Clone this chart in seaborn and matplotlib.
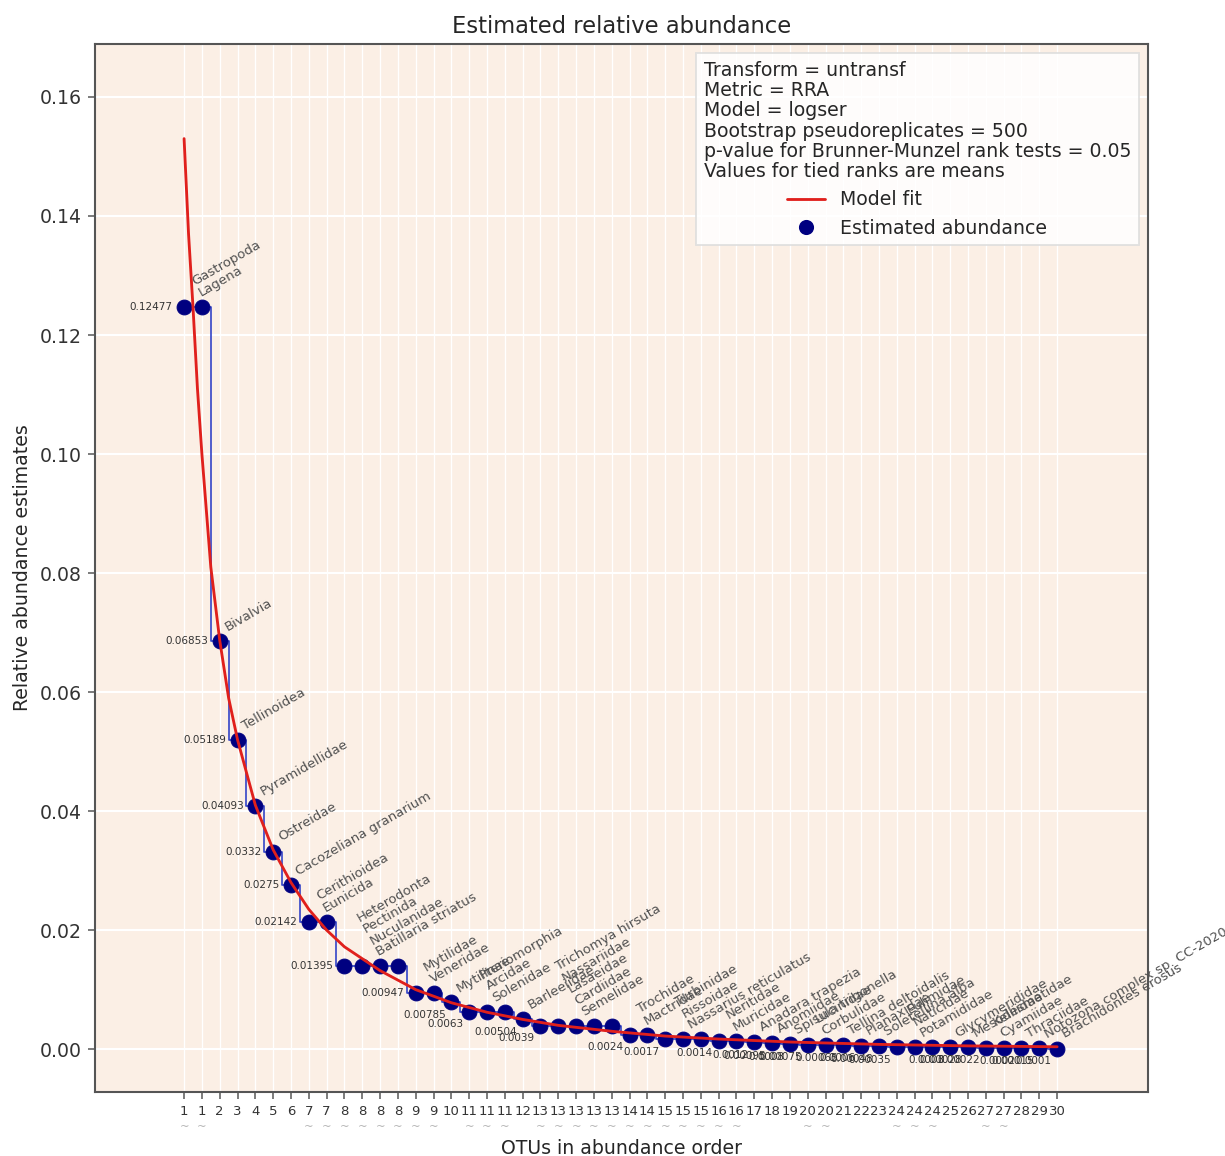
import numpy as np
import pandas as pd
import matplotlib
matplotlib.use("Agg")
import matplotlib.pyplot as plt
import matplotlib.transforms as mtransforms
from matplotlib.lines import Line2D
import seaborn as sns

# ---------------- data ----------------
rank_labels = [1, 1, 2, 3, 4, 5, 6, 7, 7, 8, 8, 8, 8, 9, 9, 10, 11, 11, 11, 12,
               13, 13, 13, 13, 13, 14, 14, 15, 15, 15, 16, 16, 17, 18, 19, 20, 20,
               21, 22, 23, 24, 24, 24, 25, 26, 27, 27, 28, 29, 30]

abundance = [0.12477, 0.12477, 0.06853, 0.05189, 0.04093, 0.0332, 0.0275,
             0.02142, 0.02142, 0.01395, 0.01395, 0.01395, 0.01395,
             0.00947, 0.00947, 0.00785, 0.0063, 0.0063, 0.0063, 0.00504,
             0.0039, 0.0039, 0.0039, 0.0039, 0.0039, 0.0024, 0.0024,
             0.0017, 0.0017, 0.0017, 0.0014, 0.0014, 0.0012, 0.00095, 0.0008,
             0.00075, 0.00075, 0.00065, 0.0006, 0.00048, 0.00035, 0.00035,
             0.00035, 0.0003, 0.00028, 0.00022, 0.00022, 0.0002, 0.00015, 0.0001]

taxa = ["Gastropoda", "Lagena", "Bivalvia", "Tellinoidea", "Pyramidellidae",
        "Ostreidae", "Cacozeliana granarium", "Cerithioidea", "Eunicida",
        "Heterodonta", "Pectinida", "Nuculanidae", "Batillaria striatus",
        "Mytilidae", "Veneridae", "Mytilinae", "Pteriomorphia", "Arcidae",
        "Solenidae", "Barleeiidae", "Trichomya hirsuta", "Nassariidae",
        "Lasaeidae", "Cardiidae", "Semelidae", "Trochidae", "Mactridae",
        "Turbinidae", "Rissoidae", "Nassarius reticulatus", "Neritidae",
        "Muricidae", "Anadara trapezia", "Anomiidae", "Spisula trigonella",
        "Lucinidae", "Corbulidae", "Tellina deltoidalis", "Planaxidae",
        "Soletellina alba", "Eulimidae", "Naticidae", "Potamididae",
        "Glycymerididae", "Mesodesmatidae", "Kelliidae", "Cyamiidae",
        "Thraciidae", "Notozona complex sp. CC-2020", "Brachidontes erosus"]

fit_x = [1, 1.25, 1.5, 1.75, 2, 2.5, 3, 3.5, 4, 5, 6, 7, 8, 9, 10, 12, 14,
         16, 18, 20, 22, 25, 28, 31, 35, 40, 45, 50]
fit_y = [0.153, 0.137, 0.1247, 0.111, 0.100, 0.081, 0.0687, 0.059, 0.052,
         0.041, 0.0335, 0.028, 0.0235, 0.0200, 0.0172, 0.0132, 0.0100, 0.0078,
         0.0062, 0.0050, 0.0040, 0.0030, 0.0022, 0.0017, 0.0012, 0.0008,
         0.00055, 0.0004]

legend_title_lines = ["Transform = untransf", "Metric = RRA", "Model = logser",
                      "Bootstrap pseudoreplicates = 500",
                      "p-value for Brunner-Munzel rank tests = 0.05",
                      "Values for tied ranks are means"]

# ---------------- style ----------------
sns.set_theme(style="ticks", rc={
    "axes.facecolor": "#FBEFE5",
    "axes.edgecolor": "#555555",
    "axes.linewidth": 1.1,
    "grid.color": "white",
    "xtick.color": "#333333",
    "ytick.color": "#333333",
})
plt.rcParams["font.family"] = ["DejaVu Sans"]

W, H, DPI = 1225, 1156, 136
fig = plt.figure(figsize=(W / DPI, H / DPI), dpi=DPI)
ax = fig.add_axes([95 / W, 1 - 1092 / H, (1148 - 95) / W, (1092 - 44) / H])

df = pd.DataFrame({"pos": np.arange(1, len(abundance) + 1),
                   "value": abundance, "rank": rank_labels, "taxon": taxa})
fit_df = pd.DataFrame({"x": fit_x, "y": fit_y})

# step line
sns.lineplot(data=df, x="pos", y="value", ax=ax, color="#3848c8", lw=0.9,
             drawstyle="steps-mid", estimator=None, sort=False, zorder=2)
# points
sns.scatterplot(data=df, x="pos", y="value", ax=ax, color="#000080", s=62,
                edgecolor="#000080", linewidth=0.5, zorder=3)
# model fit
sns.lineplot(data=fit_df, x="x", y="y", ax=ax, color="#e0201c", lw=1.5,
             estimator=None, sort=False, zorder=4)

# annotations per tie group
for r, grp in df.groupby("rank", sort=False):
    first = grp["pos"].min()
    center = grp["pos"].mean()
    v = grp["value"].iloc[0]
    names = "\n".join(grp["taxon"].tolist())
    if v >= 0.009:
        ax.annotate(str(round(v, 5)), xy=(first, v), xytext=(-6, 0),
                    textcoords="offset points", ha="right", va="center",
                    fontsize=5.5, color="#333333", zorder=5)
    else:
        ax.annotate(str(round(v, 5)), xy=(first, v), xytext=(-3, -4),
                    textcoords="offset points", ha="right", va="top",
                    fontsize=5.5, color="#333333", zorder=5)
    ax.annotate(names, xy=(center, v), xytext=(5, 4), textcoords="offset points",
                rotation=30, rotation_mode="anchor", ha="left", va="bottom",
                fontsize=7, color="#505050", linespacing=1.0, zorder=5,
                annotation_clip=False)

# axes setup
ax.set_xlim(-4.0, 55.1)
ax.set_ylim(-0.0072, 0.1689)
ax.set_xticks(df["pos"])
ax.set_xticklabels([str(r) for r in rank_labels], fontsize=7)
ax.set_yticks(np.arange(0, 0.161, 0.02))
ax.set_yticklabels([f"{t:.2f}" for t in np.arange(0, 0.161, 0.02)], fontsize=10)
ax.xaxis.grid(True, color="white", linewidth=0.7)
ax.yaxis.grid(True, color="white", linewidth=1.1)
ax.set_axisbelow(True)
ax.tick_params(axis="both", length=3.5, width=0.8, color="#555555")

# tie markers under tick labels
counts = pd.Series(rank_labels).value_counts()
trans = mtransforms.blended_transform_factory(ax.transData, ax.transAxes)
for p, r in zip(df["pos"], rank_labels):
    if counts[r] > 1:
        ax.text(p, -0.033, "~", transform=trans, ha="center", va="center",
                fontsize=6, color="#b0b0b0")

ax.set_xlabel("OTUs in abundance order", fontsize=10)
ax.xaxis.set_label_coords(0.5, -0.045)
ax.set_ylabel("Relative abundance estimates", fontsize=10)
ax.set_title("Estimated relative abundance", fontsize=12, pad=6)

for s in ax.spines.values():
    s.set_visible(True)
    s.set_color("#555555")

handles = [Line2D([], [], color="#e0201c", lw=1.5),
           Line2D([], [], color="#000080", marker="o", ls="", markersize=7)]
leg = ax.legend(handles, ["Model fit", "Estimated abundance"],
                title="\n".join(legend_title_lines), loc="upper right",
                fontsize=10, title_fontsize=10, frameon=True, fancybox=False,
                facecolor="white", framealpha=0.85, edgecolor="#dddddd")
leg.get_title().set_multialignment("left")
leg.get_title().set_linespacing(1.08)

fig.savefig("out.png", dpi=DPI)
